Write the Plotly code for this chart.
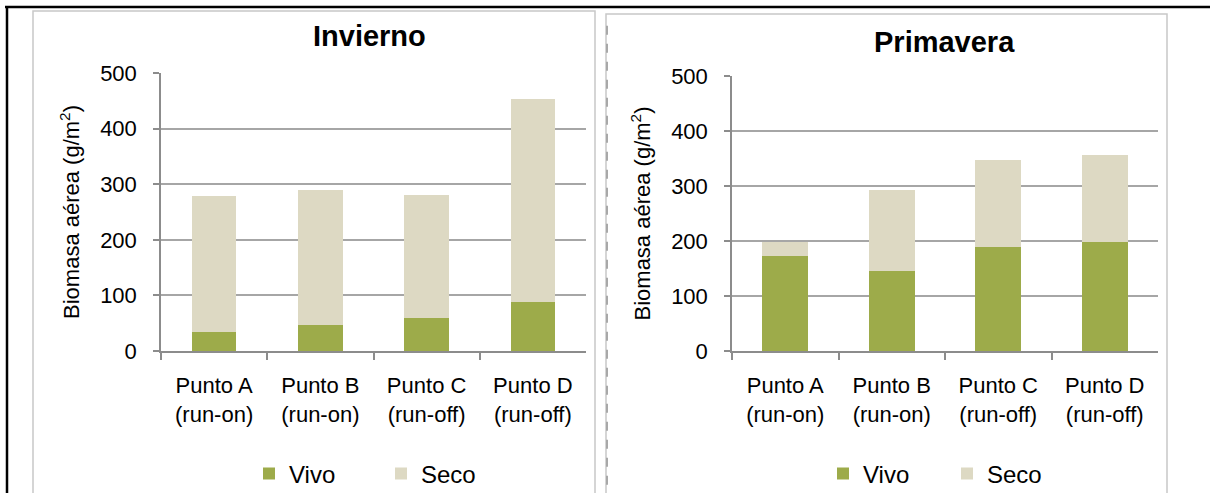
import plotly.graph_objects as go

categories = ["Punto A<br>(run-on)", "Punto B<br>(run-on)", "Punto C<br>(run-off)", "Punto D<br>(run-off)"]
invierno_vivo = [35, 47, 59, 88]
invierno_seco = [244, 242, 222, 366]
primavera_vivo = [172, 146, 189, 198]
primavera_seco = [27, 146, 159, 159]
y_ticks = [0, 100, 200, 300, 400, 500]

VIVO = "#9DAB4A"
SECO = "#DDD9C3"
FONT = "Liberation Sans, Arial, sans-serif"
W, H = 1210, 493

def px(x):
    return x / W

def py(y):
    return 1 - y / H

fig = go.Figure()
fig.add_trace(go.Bar(x=categories, y=invierno_vivo, name="Vivo", marker=dict(color=VIVO, line=dict(width=0)),
                     width=0.42, xaxis="x", yaxis="y", legend="legend"))
fig.add_trace(go.Bar(x=categories, y=invierno_seco, name="Seco", marker=dict(color=SECO, line=dict(width=0)),
                     width=0.42, xaxis="x", yaxis="y", legend="legend"))
fig.add_trace(go.Bar(x=categories, y=primavera_vivo, name="Vivo", marker=dict(color=VIVO, line=dict(width=0)),
                     width=0.43, xaxis="x2", yaxis="y2", legend="legend2"))
fig.add_trace(go.Bar(x=categories, y=primavera_seco, name="Seco", marker=dict(color=SECO, line=dict(width=0)),
                     width=0.43, xaxis="x2", yaxis="y2", legend="legend2"))

GRID = "#A6A6A6"
AX = "#8C8C8C"

xcommon = dict(type="category", range=[-0.5, 3.5], showline=True, linecolor=AX, linewidth=1.5,
               ticks="outside", tickson="boundaries", ticklen=7, tickcolor=AX, tickwidth=1.5,
               showgrid=False, tickfont=dict(family=FONT, size=22, color="#000"), ticklabelstandoff=14,
               fixedrange=True)
ycommon = dict(range=[0, 500], tickvals=y_ticks, showline=True, linecolor=AX, linewidth=1.5,
               ticks="outside", ticklen=6, tickcolor=AX, tickwidth=1.5,
               showgrid=True, gridcolor=GRID, gridwidth=1.5, zeroline=False,
               tickfont=dict(family=FONT, size=22, color="#000"), ticklabelstandoff=12,
               title=dict(text="Biomasa aérea (g/m<sup>2</sup>)", font=dict(family=FONT, size=22, color="#000"),
                          standoff=14),
               fixedrange=True)

fig.update_layout(
    width=W, height=H,
    margin=dict(l=0, r=0, t=0, b=0, autoexpand=False),
    paper_bgcolor="white", plot_bgcolor="white",
    barmode="stack",
    bargap=0.58,
    xaxis=dict(domain=[px(161), px(586)], anchor="y", **xcommon),
    yaxis=dict(domain=[py(351), py(73)], anchor="x", **ycommon),
    xaxis2=dict(domain=[px(732), px(1158)], anchor="y2", **xcommon),
    yaxis2=dict(domain=[py(351), py(76)], anchor="x2", **ycommon),
    legend=dict(orientation="h", x=px(249), xanchor="left", y=py(474), yanchor="middle",
                font=dict(family=FONT, size=24, color="#000"), entrywidth=87, entrywidthmode="pixels",
                bgcolor="rgba(0,0,0,0)", traceorder="normal"),
    legend2=dict(orientation="h", x=px(823), xanchor="left", y=py(474), yanchor="middle",
                 font=dict(family=FONT, size=24, color="#000"), entrywidth=79, entrywidthmode="pixels",
                 bgcolor="rgba(0,0,0,0)", traceorder="normal"),
    showlegend=True,
    annotations=[
        dict(text="<b>Invierno</b>", x=px(369), y=py(36), xref="paper", yref="paper",
             xanchor="center", yanchor="middle", showarrow=False, font=dict(family=FONT, size=29, color="#000")),
        dict(text="<b>Primavera</b>", x=px(945), y=py(42), xref="paper", yref="paper",
             xanchor="center", yanchor="middle", showarrow=False, font=dict(family=FONT, size=29, color="#000")),
    ],
    shapes=[
        dict(type="rect", xref="paper", yref="paper", x0=px(33), x1=px(595), y0=-0.05, y1=py(11),
             line=dict(color="#C8C8C8", width=1.5), layer="below"),
        dict(type="rect", xref="paper", yref="paper", x0=px(606), x1=px(1167), y0=-0.05, y1=py(14),
             line=dict(color="#C8C8C8", width=1.5), layer="below"),
        dict(type="line", xref="paper", yref="paper", x0=px(607), x1=px(607), y0=-0.02, y1=py(18),
             line=dict(color="#A8A8A8", width=2, dash="dash")),
        dict(type="line", xref="paper", yref="paper", x0=px(5), x1=1.0, y0=py(7), y1=py(7),
             line=dict(color="#000", width=2.5)),
        dict(type="line", xref="paper", yref="paper", x0=px(7), x1=px(7), y0=-0.02, y1=py(6),
             line=dict(color="#000", width=2.5)),
    ],
)

fig.write_html("out.html")
